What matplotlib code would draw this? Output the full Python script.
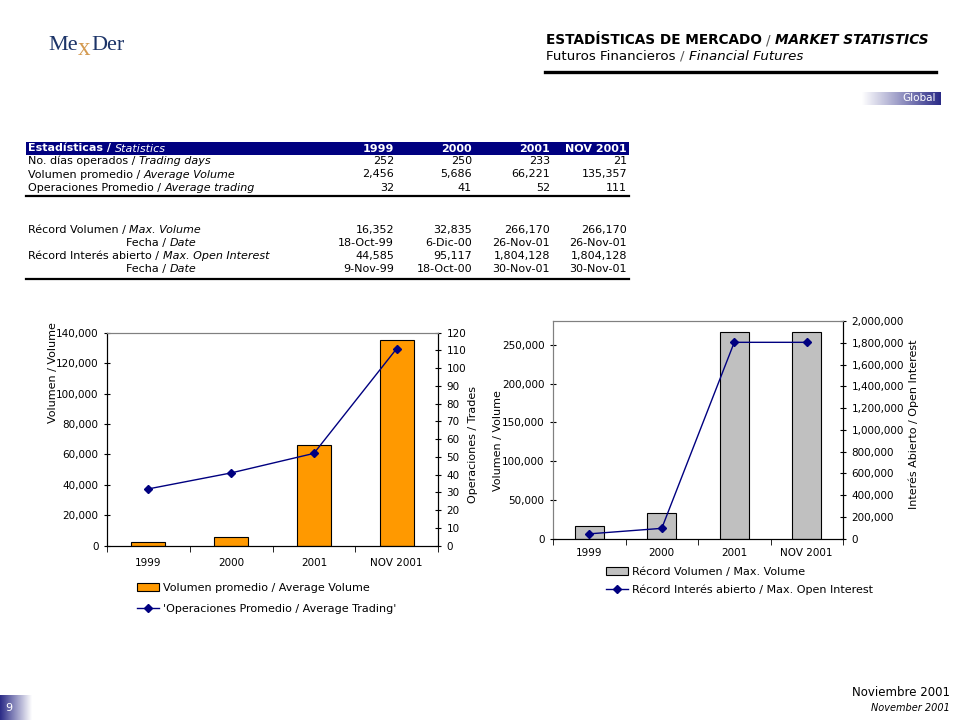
import numpy as np
import matplotlib
matplotlib.use('Agg')
import matplotlib.pyplot as plt
from matplotlib.lines import Line2D
from matplotlib.patches import Rectangle
from matplotlib.ticker import FuncFormatter, MultipleLocator

plt.rcParams['font.family'] = ['DejaVu Sans']

# datos de la tabla
years = ['1999', '2000', '2001', 'NOV 2001']
trading_days = [252, 250, 233, 21]
avg_volume = [2456, 5686, 66221, 135357]
avg_trading = [32, 41, 52, 111]
max_volume = [16352, 32835, 266170, 266170]
max_volume_date = ['18-Oct-99', '6-Dic-00', '26-Nov-01', '26-Nov-01']
max_oi = [44585, 95117, 1804128, 1804128]
max_oi_date = ['9-Nov-99', '18-Oct-00', '30-Nov-01', '30-Nov-01']

W, H = 960, 720
NAVY = '#000080'
fig = plt.figure(figsize=(9.6, 7.2), dpi=100)
renderer = fig.canvas.get_renderer()


def fx(x):
    return x / W


def fy(y):
    return 1 - y / H


def rich(x, y, parts, size=8, color='black'):
    # texto con partes normales / cursivas una tras otra
    cx = x
    for txt, kw in parts:
        kw = dict(kw)
        c = kw.pop('color', color)
        t = fig.text(fx(cx), fy(y), txt, fontsize=size, va='center', ha='left',
                     color=c, **kw)
        cx += t.get_window_extent(renderer).width + size * 0.45
    return cx


def fmt(v):
    return '{:,}'.format(v)


# logo
t = fig.text(fx(48), fy(46), 'Me', family='Liberation Serif', color='#1c3468',
             fontsize=16, va='center', ha='left')
lx = 48 + t.get_window_extent(renderer).width + 0.5
t = fig.text(fx(lx), fy(49), 'x', family='Liberation Serif', color='#d49a50',
             fontsize=18, va='center', ha='left')
lx2 = lx + t.get_window_extent(renderer).width + 0.5
fig.text(fx(lx2), fy(46), 'Der', family='Liberation Serif', color='#1c3468',
         fontsize=16, va='center', ha='left')

# encabezado
rich(546, 40, [('ESTADÍSTICAS DE MERCADO', dict(weight='bold')),
               ('/', dict(color='#555555')),
               ('MARKET STATISTICS', dict(weight='bold', style='italic'))], size=9.8)
rich(546, 56, [('Futuros Financieros', {}),
               ('/', dict(color='#555555')),
               ('Financial Futures', dict(style='italic'))], size=9.6)
fig.add_artist(Line2D([fx(545), fx(936)], [fy(72), fy(72)], color='black', lw=2.4))

# pestaña Global
grad = np.linspace(0, 1, 256).reshape(1, -1)
cmap_g = matplotlib.colors.LinearSegmentedColormap.from_list('g', ['white', '#2a2a86'])
gax = fig.add_axes([fx(862), fy(105), fx(78), 13 / H])
gax.imshow(grad, aspect='auto', cmap=cmap_g)
gax.axis('off')
fig.text(fx(936), fy(98), 'Global', color='white', fontsize=7.5, ha='right', va='center')

# tabla
fig.add_artist(Rectangle((fx(26), fy(155)), fx(603), 13 / H, color=NAVY, lw=0))
col_r = [394, 472, 550, 627]
rich(28, 148.5, [('Estadísticas /', dict(weight='bold', color='white')),
                 ('Statistics', dict(style='italic', color='white'))])
for xr, yr in zip(col_r, years):
    fig.text(fx(xr), fy(148.5), yr, color='white', weight='bold', fontsize=8,
             ha='right', va='center')

rows1 = [(161, [('No. días operados /', {}), ('Trading days', dict(style='italic'))],
          [str(v) for v in trading_days]),
         (174.5, [('Volumen promedio /', {}), ('Average Volume', dict(style='italic'))],
          [fmt(v) for v in avg_volume]),
         (188, [('Operaciones Promedio /', {}), ('Average trading', dict(style='italic'))],
          [fmt(v) for v in avg_trading])]
rows2 = [(230, 28, [('Récord Volumen /', {}), ('Max. Volume', dict(style='italic'))],
          [fmt(v) for v in max_volume]),
         (243, 126, [('Fecha /', {}), ('Date', dict(style='italic'))], max_volume_date),
         (256, 28, [('Récord Interés abierto /', {}), ('Max. Open Interest', dict(style='italic'))],
          [fmt(v) for v in max_oi]),
         (269, 126, [('Fecha /', {}), ('Date', dict(style='italic'))], max_oi_date)]
for y, parts, vals in rows1:
    rich(28, y, parts)
    for xr, v in zip(col_r, vals):
        fig.text(fx(xr), fy(y), v, fontsize=8, ha='right', va='center')
for y, x0, parts, vals in rows2:
    rich(x0, y, parts)
    for xr, v in zip(col_r, vals):
        fig.text(fx(xr), fy(y), v, fontsize=8, ha='right', va='center')
for yl in (196, 279):
    fig.add_artist(Line2D([fx(26), fx(629)], [fy(yl), fy(yl)], color='black', lw=1.6))

x = np.arange(len(years))
comma = FuncFormatter(lambda v, p: fmt(int(v)))


def style_axes(ax, ax2, left_color, pad):
    ax.set_xlim(-0.5, 3.5)
    ax.set_xticks(x)
    ax.set_xticklabels(years)
    ax.set_xticks([-0.5, 0.5, 1.5, 2.5, 3.5], minor=True)
    ax.tick_params(axis='x', which='major', length=0, labelsize=7.5, pad=pad)
    ax.tick_params(axis='x', which='minor', length=4, direction='out')
    ax.tick_params(axis='y', direction='inout', length=5, labelsize=7.5)
    ax2.tick_params(axis='y', direction='inout', length=5, labelsize=7.5)
    for a in (ax, ax2):
        a.spines['top'].set_color('#808080')
        a.spines['left'].set_color(left_color)
        a.spines['right'].set_color('black')
        a.spines['bottom'].set_color('black')
        a.spines['left'].set_linewidth(0.8)
        a.spines['top'].set_linewidth(0.8)
    ax.yaxis.set_major_formatter(comma)
    ax2.yaxis.set_major_formatter(comma)


# grafica izquierda
ax1 = fig.add_axes([fx(107), fy(545.7), fx(331), 213 / H])
b1 = ax1.bar(x, avg_volume, width=0.41, color='#ff9900', edgecolor='black', lw=0.8,
             label='Volumen promedio / Average Volume')
ax1.set_ylim(0, 140000)
ax1.yaxis.set_major_locator(MultipleLocator(20000))
ax1b = ax1.twinx()
l1, = ax1b.plot(x, avg_trading, color=NAVY, marker='D', ms=4, lw=1,
                label="'Operaciones Promedio / Average Trading'")
ax1b.set_ylim(0, 120)
ax1b.yaxis.set_major_locator(MultipleLocator(10))
style_axes(ax1, ax1b, 'black', 9)
ax1.set_ylabel('Volumen / Volume', fontsize=8)
ax1.yaxis.set_label_coords(-0.148, 0.815)
ax1b.set_ylabel('Operaciones / Trades', fontsize=8)
ax1b.yaxis.set_label_coords(1.091, 0.473)
fig.legend(handles=[b1, l1], loc='upper left', bbox_to_anchor=(fx(137), fy(583)),
           frameon=False, fontsize=8, borderpad=0, borderaxespad=0, handlelength=2.0,
           handleheight=0.7, handletextpad=0.3, labelspacing=1.0)

# grafica derecha
ax2 = fig.add_axes([fx(553), fy(538.7), fx(290), 217.7 / H])
b2 = ax2.bar(x, max_volume, width=0.4, color='#c0c0c0', edgecolor='black', lw=0.8,
             label='Récord Volumen / Max. Volume')
ax2.set_ylim(0, 281000)
ax2.yaxis.set_major_locator(MultipleLocator(50000))
ax2b = ax2.twinx()
l2, = ax2b.plot(x, max_oi, color=NAVY, marker='D', ms=4, lw=1,
                label='Récord Interés abierto / Max. Open Interest')
ax2b.set_ylim(0, 2000000)
ax2b.yaxis.set_major_locator(MultipleLocator(200000))
style_axes(ax2, ax2b, '#808080', 7)
ax2.set_ylabel('Volumen / Volume', fontsize=8)
ax2.yaxis.set_label_coords(-0.172, 0.453)
ax2b.set_ylabel('Interés Abierto / Open Interest', fontsize=8)
ax2b.yaxis.set_label_coords(1.227, 0.527)
fig.legend(handles=[b2, l2], loc='upper left', bbox_to_anchor=(fx(606), fy(567)),
           frameon=False, fontsize=8, borderpad=0, borderaxespad=0, handlelength=2.0,
           handleheight=0.7, handletextpad=0.3, labelspacing=0.7)

# pie de pagina
cmap_p = matplotlib.colors.LinearSegmentedColormap.from_list('p', ['#2a2a86', 'white'])
pax = fig.add_axes([0, 0, fx(32), 25 / H])
pax.imshow(grad, aspect='auto', cmap=cmap_p)
pax.axis('off')
fig.text(fx(9), fy(708), '9', color='white', fontsize=8, ha='center', va='center')
fig.text(fx(950), fy(693), 'Noviembre 2001', fontsize=8.5, ha='right', va='center')
fig.text(fx(950), fy(708), 'November 2001', fontsize=7, style='italic', ha='right', va='center')

fig.savefig('out.png', dpi=100)
